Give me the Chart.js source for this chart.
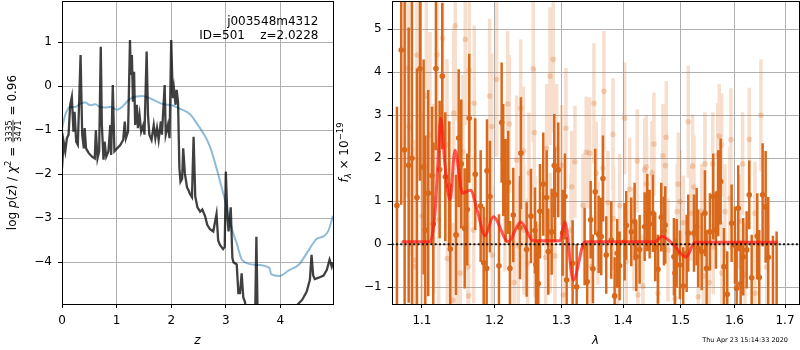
<!DOCTYPE html>
<html><head><meta charset="utf-8">
<script src="https://cdn.jsdelivr.net/npm/chart.js@4.4.1/dist/chart.umd.min.js"></script>
<style>
html,body{margin:0;padding:0;background:#fff;width:800px;height:350px;overflow:hidden}
#l{position:absolute;left:0;top:0;width:336px;height:350px}
#r{position:absolute;left:336px;top:0;width:464px;height:350px}
canvas{display:block}
</style></head><body>
<div id="l"><canvas id="c1" width="336" height="350"></canvas></div>
<div id="r"><canvas id="c2" width="464" height="350"></canvas></div>
<script>
// ---------- left panel: log p(z) ----------
const zGrid = [0,0.03,0.06,0.09,0.12,0.15,0.18,0.21,0.23,0.26,0.29,0.34,0.37,0.40,0.415,0.44,0.49,0.55,0.60,0.62,0.65,0.68,0.71,0.73,0.76,0.78,0.81,0.85,0.885,0.90,0.93,0.96,1.01,1.07,1.12,1.15,1.17,1.21,1.245,1.26,1.28,1.30,1.32,1.34,1.37,1.39,1.42,1.45,1.49,1.51,1.55,1.575,1.60,1.64,1.68,1.71,1.74,1.77,1.81,1.83,1.88,1.90,1.94,1.97,2.0,2.03,2.05,2.08,2.10,2.125,2.15,2.17,2.20,2.22,2.25,2.29,2.32,2.344,2.38,2.41,2.44,2.48,2.53,2.57,2.62,2.66,2.71,2.77,2.80,2.83,2.86,2.89,2.95,2.98,3.0,3.03,3.05,3.09,3.12,3.14,3.20,3.23,3.26,3.29,3.32,3.35,3.40,3.50,3.54,3.56,3.58,3.65,3.9,4.1,4.25,4.30,4.40,4.48,4.54,4.57,4.60,4.63,4.70,4.79,4.85,4.90,4.94,4.963];
const logPz = [-1.86,-1.26,-1.48,-1.18,-1.1,-0.42,-0.24,-1.03,-0.58,-1.26,-1.33,0.71,-1.1,-1.41,-0.95,-1.41,-1.52,-1.6,-1.64,-1.0,-1.64,-1.48,0.9,-0.88,-1.67,-1.26,-1.6,-1.48,-0.88,-1.56,0.03,-1.48,-1.41,-1.33,-1.22,-0.8,-1.18,-1.03,1.05,0.26,0.71,-0.35,0.33,-0.88,-0.42,-0.95,-0.65,-1.03,-0.88,-1.1,0.79,-0.65,-1.1,-1.22,-0.88,-1.18,-0.95,-1.22,-0.8,-1.1,0.03,-1.1,-0.88,-1.18,1.05,-0.27,-0.05,-0.42,-0.08,-0.35,-1.86,-2.17,-2.1,-1.41,-1.98,-2.3,-2.37,-2.45,-2.52,-1.15,-2.5,-2.75,-2.85,-2.8,-2.95,-3.15,-3.25,-3.3,-3.1,-2.9,-3.5,-3.6,-3.7,-3.65,-1.94,-3.0,-3.3,-2.75,-3.9,-4.0,-4.05,-4.7,-4.7,-4.25,-4.8,-4.9,-5.3,-5.5,-5.0,-3.42,-5.0,-5.6,-5.8,-5.7,-5.3,-4.98,-4.85,-4.67,-4.4,-3.83,-4.3,-4.38,-4.35,-4.3,-4.17,-3.94,-4.1,-4.0];
const zPrior = [0,0.06,0.15,0.24,0.34,0.43,0.52,0.61,0.70,0.79,0.885,1.01,1.10,1.19,1.28,1.47,1.59,1.74,1.86,2.01,2.14,2.34,2.5,2.59,2.71,2.83,2.92,3.0,3.08,3.2,3.3,3.56,3.8,3.83,3.98,4.16,4.34,4.53,4.66,4.79,4.88,4.963];
const logPrior = [-0.96,-0.65,-0.47,-0.47,-0.39,-0.37,-0.43,-0.41,-0.47,-0.48,-0.47,-0.53,-0.47,-0.35,-0.26,-0.22,-0.26,-0.35,-0.41,-0.43,-0.5,-0.63,-0.9,-1.07,-1.37,-1.86,-2.28,-2.66,-3.11,-3.57,-3.95,-4.06,-4.13,-4.27,-4.31,-4.18,-4.05,-3.7,-3.47,-3.41,-3.28,-2.94];
const zTicks = [0,1,2,3,4];
const pzTicks = [-4,-3,-2,-1,0,1];
const zRange = [0, 4.963];
const pzRange = [-4.948, 1.939];

// ---------- right panel: spectrum ----------
const lamDark = [1.0675,1.0730,1.0774,1.0826,1.0869,1.0934,1.0974,1.1022,1.1044,1.1083,1.1133,1.1150,1.1186,1.1236,1.1271,1.1312,1.1366,1.1380,1.1458,1.1495,1.1531,1.1578,1.1614,1.1642,1.1726,1.1802,1.1845,1.1887,1.1892,1.1934,1.2064,1.2103,1.2126,1.2161,1.2199,1.2224,1.2273,1.2372,1.2386,1.2471,1.2536,1.2596,1.2611,1.2646,1.2672,1.2722,1.2774,1.2799,1.2851,1.2891,1.2902,1.2953,1.3021,1.3057,1.3084,1.3178,1.3242,1.3369,1.3411,1.3466,1.3503,1.3540,1.3596,1.3638,1.3666,1.3720,1.3803,1.3859,1.3902,1.3942,1.4026,1.4053,1.4138,1.4195,1.4223,1.4281,1.4367,1.4412,1.4453,1.4510,1.4550,1.4598,1.4656,1.4703,1.4726,1.4880,1.4898,1.4929,1.4988,1.5047,1.5109,1.5138,1.5242,1.5291,1.5320,1.5383,1.5444,1.5475,1.5537,1.5598,1.5649,1.5692,1.5738,1.5800,1.5863,1.5946,1.6010,1.6042,1.6073,1.6120,1.6170,1.6236,1.6287,1.6334,1.6444,1.6483,1.6550,1.6610,1.6662,1.6756,1.6830];
const fluxDark = [0.9,4.52,2.2,1.84,2.0,1.09,4.08,1.8,0.33,1.19,1.6,0.47,4.09,1.74,3.91,1.57,1.36,-0.11,0.22,2.47,1.87,0.37,0.81,2.93,1.63,0.89,-0.43,-0.56,1.71,1.11,-0.5,2.83,1.96,1.25,1.44,-0.56,0.68,0.39,2.12,-0.12,0.66,0.32,-0.47,-0.91,0.77,1.4,1.09,-0.17,0.29,1.83,1.15,1.73,0.27,1.11,-0.83,-0.44,-0.99,-0.05,-0.87,0.57,-0.57,1.22,0.23,0.18,1.53,-0.25,0.1,-1.2,-0.21,-0.5,0.06,0.44,0.29,0.53,-0.29,-0.12,0.41,0.74,0.47,0.72,-0.06,-0.58,0.63,0.31,0.45,-0.29,-0.67,-0.21,-0.48,-0.97,-0.21,0.26,0.26,0.41,-0.09,-0.17,0.72,-0.56,0.29,1.11,0.33,1.19,1.46,-0.52,-1.16,0.49,-0.02,-1.02,0.84,-0.92,-0.29,-0.13,1.15,-0.78,0.19,-0.77,1.15,0.87,-0.3,-1.6,-1.5];
const errDark = [2.3,3.6,4.0,3.2,3.8,3.0,2.6,2.5,2.2,2.4,1.6,1.9,1.9,1.6,1.7,1.5,1.5,1.4,1.4,1.6,1.5,1.4,1.3,1.5,1.3,1.3,1.3,1.2,1.2,1.3,1.2,1.4,1.3,1.2,1.2,1.1,1.1,1.2,1.3,1.1,1.1,1.0,1.0,1.0,1.1,1.2,1.1,1.0,1.0,1.2,1.1,1.1,1.0,1.0,1.0,1.0,1.0,0.9,0.9,0.9,0.8,1.0,0.9,0.9,1.0,0.9,0.9,0.9,0.8,0.8,0.9,0.8,0.8,0.9,0.8,0.8,0.8,0.9,0.8,0.9,0.8,0.8,0.8,0.8,0.9,0.9,0.8,0.8,0.8,0.9,0.9,0.9,0.9,0.9,0.9,0.9,1.0,0.9,0.9,1.0,0.9,1.0,1.0,0.9,1.0,0.9,0.9,1.0,1.0,1.0,0.9,0.9,0.8,1.0,1.0,1.1,1.2,1.3,1.4,1.8,1.8];
const lamLight = [1.0817,1.0834,1.0891,1.0912,1.0934,1.1000,1.1057,1.1106,1.1155,1.1200,1.1223,1.1276,1.1335,1.1340,1.1417,1.1426,1.1448,1.1471,1.1517,1.1554,1.1586,1.1624,1.1633,1.1642,1.1703,1.1712,1.1930,1.1959,1.1967,1.2031,1.2151,1.2190,1.2214,1.2287,1.2323,1.2346,1.2382,1.2421,1.2430,1.2486,1.2506,1.2570,1.2586,1.2596,1.2637,1.2759,1.2774,1.2825,1.2830,1.2875,1.2902,1.2928,1.3006,1.3031,1.3073,1.3152,1.3163,1.3215,1.3342,1.3395,1.3450,1.3476,1.3519,1.3557,1.3584,1.3666,1.3682,1.3748,1.3831,1.3840,1.3914,1.3942,1.4026,1.4053,1.4111,1.4183,1.4240,1.4252,1.4337,1.4367,1.4394,1.4400,1.4493,1.4528,1.4598,1.4685,1.4726,1.4744,1.4774,1.4898,1.4939,1.4957,1.4988,1.5047,1.5138,1.5181,1.5218,1.5242,1.5320,1.5383,1.5412,1.5444,1.5524,1.5587,1.5598,1.5681,1.5711,1.5756,1.5760,1.5819,1.5914,1.5933,1.6106,1.6158,1.6203,1.6287,1.6398,1.6400,1.6517,1.6630];
const fluxLight = [4.09,2.74,-0.52,-0.37,4.4,0.66,3.45,2.54,1.07,4.4,0.57,4.79,2.31,-0.33,-1.3,3.05,5.08,0.2,-0.67,2.15,4.77,-0.52,-1.2,4.05,0.33,3.28,3.45,2.74,-0.25,3.84,0.87,3.26,2.8,-0.89,1.96,-0.04,3.16,2.17,0.33,-0.44,1.66,4.08,2.6,0.18,-0.93,-0.3,2.23,3.91,0.26,4.3,-0.27,2.23,1.84,-1.18,2.7,0.33,1.34,1.92,0.91,2.14,2.12,-0.52,3.28,1.65,0.26,1.77,3.56,0.97,2.56,0.6,-0.75,0.9,2.93,-0.4,1.28,0.12,1.94,-1.18,-0.97,1.73,1.8,1.4,1.67,2.33,-1.14,2.06,1.83,2.49,-0.13,-1.26,0.76,1.4,0.99,0.5,2.85,0.72,1.82,1.33,-1.22,0.76,-0.74,1.87,-0.89,1.87,-0.06,2.08,2.52,2.31,-0.67,0.76,1.07,2.43,0.53,1.87,-0.71,2.44,0.72,-1.14,3.0,-0.53];
const errLight = [3.0,3.0,2.8,2.8,2.8,2.4,2.5,2.4,2.2,2.4,2.0,2.3,2.0,1.8,1.8,2.0,2.2,1.8,1.7,1.8,2.0,1.7,1.7,1.9,1.7,1.8,1.8,1.7,1.6,1.8,1.5,1.7,1.6,1.5,1.5,1.5,1.6,1.5,1.5,1.5,1.4,1.7,1.5,1.4,1.4,1.4,1.5,1.6,1.4,1.7,1.4,1.5,1.4,1.3,1.4,1.3,1.3,1.3,1.2,1.3,1.3,1.2,1.4,1.2,1.2,1.2,1.4,1.2,1.3,1.2,1.2,1.2,1.3,1.2,1.2,1.2,1.2,1.2,1.2,1.2,1.2,1.1,1.2,1.2,1.2,1.2,1.2,1.3,1.2,1.2,1.1,1.2,1.2,1.1,1.3,1.1,1.2,1.2,1.2,1.1,1.2,1.2,1.2,1.2,1.1,1.2,1.2,1.2,1.2,1.1,1.2,1.2,1.1,1.2,1.2,1.2,1.2,1.3,1.3,1.4];
const lamModel = [1.0735,1.1106,1.1172,1.1215,1.1251,1.1304,1.1376,1.1444,1.1549,1.166,1.176,1.1862,1.1982,1.2199,1.2382,1.257,1.2979,1.3057,1.3188,1.3374,1.4546,1.4663,1.4868,1.5097,1.5261,1.6862];
const fluxModel = [0.06,0.06,0.7,2.0,2.93,1.9,1.03,2.19,1.19,1.26,0.75,0.2,0.64,0.06,0.52,0.08,0.08,0.52,-0.83,0.06,0.06,0.18,0.0,-0.3,0.05,0.05];
const lamTicks = [1.1,1.2,1.3,1.4,1.5,1.6,1.7];
const fluxTicks = [-1,0,1,2,3,4,5];
const lamRange = [1.0608, 1.7294];
const fluxRange = [-1.388, 5.658];
const zeroLevel = 0;

// ---------- helpers ----------
Chart.defaults.font.family = "'DejaVu Sans'";
Chart.defaults.font.size = 12;
Chart.defaults.color = '#000';
const FN = '12px "DejaVu Sans"', FI = 'italic 12px "DejaVu Sans"';
const FS = '8.5px "DejaVu Sans"', FSI = 'italic 8.5px "DejaVu Sans"';
const minus = v => String(v).replace('-', '\u2212');

function fixY(w){return s=>{s.width=w;s.paddingTop=0;s.paddingBottom=0;s.paddingLeft=0;s.paddingRight=0;};}
function fixX(h){return s=>{s.height=h;s.paddingTop=0;s.paddingBottom=0;s.paddingLeft=0;s.paddingRight=0;};}
function setTicks(arr){return s=>{s.ticks=arr.map(v=>({value:v}));};}
function pairs(xs,ys){return xs.map((x,i)=>({x:x,y:ys[i]}));}
function errSegs(l,f,e){const d=[];for(let i=0;i<l.length;i++){d.push({x:l[i],y:f[i]-e[i]},{x:l[i],y:f[i]+e[i]},{x:l[i],y:null});}return d;}

function drawRich(ctx, parts, x, y, rot){
  ctx.save(); ctx.translate(x,y); if(rot) ctx.rotate(rot);
  let w=0;
  for(const p of parts){ctx.font=p.f; p.w = p.frac ? Math.max(ctx.measureText(p.frac[0]).width, ctx.measureText(p.frac[1]).width)+2 : ctx.measureText(p.t).width; w+=p.w;}
  let cx=-w/2; ctx.textBaseline='alphabetic'; ctx.fillStyle='#000';
  for(const p of parts){
    ctx.font=p.f;
    if(p.frac){ctx.textAlign='center';ctx.fillText(p.frac[0],cx+p.w/2,p.ny);ctx.fillText(p.frac[1],cx+p.w/2,p.dy);ctx.fillRect(cx+0.5,p.by-0.4,p.w-1,0.8);}
    else {ctx.textAlign='left';ctx.fillText(p.t,cx,p.dy||0);}
    cx+=p.w;
  }
  ctx.restore();
}
function frame(chart){
  const a=chart.chartArea, ctx=chart.ctx;
  ctx.save(); ctx.strokeStyle='#000'; ctx.lineWidth=1;
  const l=Math.round(a.left)+0.5, t=Math.round(a.top)+0.5, r=Math.round(a.right)+0.5, b=Math.round(a.bottom)+0.5;
  ctx.strokeRect(l,t,r-l,b-t); ctx.restore();
}
const gridOpts = {color:'#b0b0b0', lineWidth:1, drawTicks:true, tickLength:4, tickColor:'#000', tickWidth:1};

// ---------- left chart ----------
new Chart(document.getElementById('c1'), {
  type:'line',
  data:{datasets:[
    {data:pairs(zGrid,logPz), borderColor:'rgba(0,0,0,0.75)', borderWidth:2.3, pointRadius:0, tension:0, order:0, clip:0},
    {data:pairs(zPrior,logPrior), borderColor:'rgba(31,119,180,0.5)', borderWidth:2, pointRadius:0, cubicInterpolationMode:'monotone', order:1, clip:0}
  ]},
  options:{
    responsive:false, animation:false, devicePixelRatio:1,
    layout:{autoPadding:false, padding:{left:0,top:1,right:3,bottom:0}},
    plugins:{legend:{display:false}, tooltip:{enabled:false}},
    scales:{
      x:{type:'linear', min:zRange[0], max:zRange[1], afterBuildTicks:setTicks(zTicks), afterFit:fixX(46),
         grid:gridOpts, border:{display:false}, ticks:{padding:6, maxRotation:0, callback:v=>minus(v)}},
      y:{type:'linear', min:pzRange[0], max:pzRange[1], afterBuildTicks:setTicks(pzTicks), afterFit:fixY(62),
         grid:gridOpts, border:{display:false}, ticks:{padding:6, callback:v=>minus(v)}}
    }
  },
  plugins:[{id:'decoL', afterDraw(chart){
    frame(chart);
    const a=chart.chartArea, ctx=chart.ctx;
    ctx.save(); ctx.fillStyle='#000'; ctx.font=FN; ctx.textAlign='right'; ctx.textBaseline='alphabetic';
    ctx.fillText('j003548m4312', 318.5, 24.5);
    ctx.fillText('ID=501    z=2.0228', 318.5, 39.3);
    ctx.font=FI; ctx.textAlign='center';
    ctx.fillText('z', (a.left+a.right)/2, 343.5);
    ctx.restore();
    drawRich(ctx,[{t:'log ',f:FN},{t:'p',f:FI},{t:'(',f:FN},{t:'z',f:FI},{t:')',f:FN},{t:' / ',f:FN},{t:'\u03c7',f:FI},{t:'2',f:FS,dy:-4.8},{t:' = ',f:FN},{frac:['3335','3471'],f:FS,ny:-4,dy:4.6,by:-3},{t:' = 0.96',f:FN}], 16, (a.top+a.bottom)/2, -Math.PI/2);
  }}]
});

// ---------- right chart ----------
const dark='rgb(217,104,26)';
new Chart(document.getElementById('c2'), {
  type:'scatter',
  data:{datasets:[
    {type:'line', data:[{x:lamRange[0],y:zeroLevel},{x:lamRange[1],y:zeroLevel}], borderColor:'rgba(0,0,0,0.9)', borderWidth:2, borderDash:[2,2.3], pointRadius:0, order:0, clip:0},
    {type:'line', data:pairs(lamModel,fluxModel), borderColor:'rgba(255,20,20,0.7)', borderWidth:3, pointRadius:0, cubicInterpolationMode:'monotone', order:1, clip:0},
    {type:'scatter', data:pairs(lamDark,fluxDark), backgroundColor:dark, borderWidth:0, pointRadius:2.8, order:2, clip:0},
    {type:'line', data:errSegs(lamDark,fluxDark,errDark), borderColor:dark, borderWidth:2.5, pointRadius:0, spanGaps:false, order:3, clip:0},
    {type:'scatter', data:pairs(lamLight,fluxLight), backgroundColor:'rgba(217,104,26,0.25)', borderWidth:0, pointRadius:2.8, order:4, clip:0},
    {type:'line', data:errSegs(lamLight,fluxLight,errLight), borderColor:'rgba(217,104,26,0.22)', borderWidth:3.5, pointRadius:0, spanGaps:false, order:5, clip:0}
  ]},
  options:{
    responsive:false, animation:false, devicePixelRatio:1,
    layout:{autoPadding:false, padding:{left:0,top:1,right:0.7,bottom:0}},
    plugins:{legend:{display:false}, tooltip:{enabled:false}},
    scales:{
      x:{type:'logarithmic', min:lamRange[0], max:lamRange[1], afterBuildTicks:setTicks(lamTicks), afterFit:fixX(46),
         grid:gridOpts, border:{display:false}, ticks:{padding:6, maxRotation:0, autoSkip:false, callback:v=>Number(v).toFixed(1)}},
      y:{type:'linear', min:fluxRange[0], max:fluxRange[1], afterBuildTicks:setTicks(fluxTicks), afterFit:fixY(55.7),
         grid:gridOpts, border:{display:false}, ticks:{padding:6, callback:v=>minus(v)}}
    }
  },
  plugins:[{id:'decoR', afterDraw(chart){
    frame(chart);
    const a=chart.chartArea, ctx=chart.ctx;
    ctx.save(); ctx.fillStyle='#000'; ctx.font=FI; ctx.textAlign='center'; ctx.textBaseline='alphabetic';
    ctx.fillText('\u03bb', (a.left+a.right)/2, 344);
    ctx.font='6.5px "DejaVu Sans"'; ctx.textAlign='right';
    ctx.fillText('Thu Apr 23 15:14:33 2020', 452, 341.5);
    ctx.restore();
    drawRich(ctx,[{t:'f',f:FI},{t:'\u03bb',f:FSI,dy:2.8},{t:' \u00d7 10',f:FN},{t:'\u221219',f:FS,dy:-5}], 12.3, (a.top+a.bottom)/2, -Math.PI/2);
  }}]
});
</script></body></html>
